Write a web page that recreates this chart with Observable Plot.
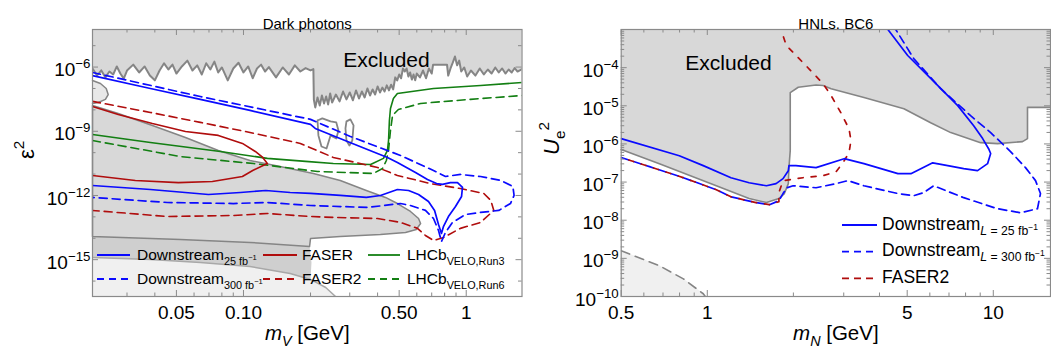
<!DOCTYPE html>
<html><head><meta charset="utf-8">
<script src="https://cdn.jsdelivr.net/npm/d3@7"></script>
<script src="https://cdn.jsdelivr.net/npm/@observablehq/plot@0.6"></script>
<style>
body{margin:0;background:#fff;}
#wrap{display:flex;width:1051px;height:352px;position:relative;}
#wrap svg{display:block;}
</style></head><body><div id="wrap"></div>
<script>
// ---------------- DATA : left panel (dark photons) ----------------
const titleL = "Dark photons", titleR = "HNLs. BC6";
const xDomainL = [0.021, 1.78], yDomainL = [1.9e-17, 5.7e-5];
const xTicksL = [0.05, 0.1, 0.5, 1], xTickLabelsL = ["0.05", "0.10", "0.50", "1"];
const xMinorL = [0.03, 0.04, 0.06, 0.07, 0.08, 0.09, 0.2, 0.3, 0.4, 0.6, 0.7, 0.8, 0.9];
const yTicksL = [1e-6, 1e-9, 1e-12, 1e-15], yTickLabelsL = ["10^{−6}", "10^{−9}", "10^{−12}", "10^{−15}"];
const yMinorL = [1e-5, 1e-7, 1e-8, 1e-10, 1e-11, 1e-13, 1e-14, 1e-16];

const dpTopBoundary = [
[0.021,8.6e-7],[0.022,4.0e-7],[0.023,7.0e-7],[0.024,3.3e-7],[0.025,6.2e-7],[0.026,4.5e-7],[0.027,1.07e-6],[0.028,5.0e-7],[0.029,2.9e-7],[0.030,6.9e-7],
[0.032,1.3e-6],[0.034,5.6e-7],[0.036,1.07e-6],[0.038,4.0e-7],[0.040,2.4e-7],[0.042,6.9e-7],[0.044,1.5e-6],[0.046,7.7e-7],[0.048,1.3e-6],[0.050,5.0e-7],
[0.053,1.1e-6],[0.056,2.0e-6],[0.059,6.9e-7],[0.062,1.2e-6],[0.065,4.5e-7],[0.068,1.5e-6],[0.071,7.7e-7],[0.074,1.8e-6],[0.077,5.6e-7],[0.080,9.6e-7],
[0.085,2.4e-7],[0.090,8.6e-7],[0.095,1.6e-6],[0.100,5.6e-7],[0.105,1.07e-6],[0.110,3.0e-7],[0.115,8.6e-7],[0.120,1.3e-6],[0.125,6.2e-7],[0.130,1.0e-6],
[0.14,3.3e-7],[0.15,9.6e-7],[0.16,4.5e-7],[0.17,1.2e-6],[0.18,6.2e-7],[0.19,9.0e-7],[0.20,7.0e-7],[0.206,8.0e-7],
[0.207,3.0e-8],[0.21,1.3e-8],[0.215,3.8e-8],[0.22,1.6e-8],[0.225,4.7e-8],[0.23,2.0e-8],[0.235,4.2e-8],[0.24,1.8e-8],[0.245,5.8e-8],[0.25,2.2e-8],
[0.26,5.2e-8],[0.27,2.5e-8],[0.28,7.2e-8],[0.29,3.1e-8],[0.30,6.5e-8],[0.31,2.8e-8],[0.32,8.1e-8],[0.33,3.4e-8],[0.34,7.2e-8],[0.35,3.8e-8],
[0.36,1.0e-7],[0.37,4.7e-8],[0.38,9.0e-8],[0.39,5.2e-8],[0.40,1.24e-7],[0.41,6.5e-8],[0.42,1.1e-7],[0.43,7.2e-8],[0.44,1.4e-7],[0.45,8.1e-8],
[0.46,1.5e-7],[0.47,9.0e-8],[0.475,1.7e-7],
[0.48,3.3e-7],[0.49,2.4e-7],[0.50,4.5e-7],[0.51,3.0e-7],[0.52,8.6e-7],[0.53,6.2e-7],[0.54,8.6e-7],[0.55,3.6e-7],[0.56,5.6e-7],[0.57,2.6e-7],
[0.58,4.5e-7],[0.59,2.4e-7],[0.60,5.0e-7],[0.62,3.3e-7],[0.64,6.9e-7],[0.66,3.0e-7],[0.68,8.6e-7],[0.70,5.0e-7],[0.71,1.3e-6],[0.76,1.3e-6],
[0.82,1.3e-6],[0.83,4.0e-7],[0.85,8.6e-7],[0.87,1.6e-6],[0.89,3.1e-6],[0.91,1.2e-6],[0.93,2.0e-6],[0.95,6.2e-7],[0.98,9.6e-7],[1.01,3.6e-7],
[1.05,6.9e-7],[1.10,4.0e-7],[1.15,8.6e-7],[1.20,4.5e-7],[1.25,7.7e-7],[1.30,5.0e-7],[1.35,9.6e-7],[1.40,5.6e-7],[1.45,8.6e-7],[1.50,5.0e-7],
[1.55,7.7e-7],[1.60,5.6e-7],[1.65,9.0e-7],[1.70,6.2e-7],[1.78,8.0e-7]];
const dpIsland1 = [[0.215,3.2e-9],[0.226,4.0e-9],[0.246,2.9e-9],[0.261,2.6e-9],[0.267,1.09e-9],[0.261,4.6e-10],[0.246,6.4e-10],[0.236,1.57e-10],[0.224,1.95e-10],[0.217,6.4e-10],[0.215,3.2e-9]];
const dpIsland2 = [[0.290,2.9e-9],[0.302,3.6e-9],[0.312,1.87e-9],[0.308,3.7e-10],[0.299,2.17e-10],[0.290,3.7e-10],[0.287,1.35e-9],[0.290,2.9e-9]];
const dpLobe = [[0.0210,2.37e-7],[0.0228,1.71e-7],[0.0242,1.0e-7],[0.0247,5.2e-8],[0.0240,3.1e-8],[0.0223,2.2e-8],[0.0210,2.0e-8]];
const dpRegionA = [[0.0210,1.6e-8],[0.0274,6.8e-9],[0.0390,1.87e-9],[0.0549,5.1e-10],[0.0771,1.27e-10],[0.107,4.3e-11],[0.146,2.26e-11],[0.206,1.07e-11],[0.272,5.0e-12],[0.356,1.71e-12],[0.434,8.1e-13],[0.491,4.2e-13],[0.562,1.79e-13],[0.611,8.4e-14],[0.624,4.9e-14],[0.597,2.58e-14],[0.534,1.87e-14],[0.412,1.5e-14],[0.272,1.21e-14],[0.200,9.8e-15],[0.198,4.1e-15],[0.107,6.4e-15],[0.0521,8.8e-15],[0.0210,1.21e-14]];
const dpRegionC = [[0.0210,1.21e-14],[0.0521,8.8e-15],[0.107,6.4e-15],[0.198,4.1e-15],[0.202,7.4e-16],[0.200,1.19e-16],[0.162,2.26e-16],[0.107,4.8e-16],[0.0640,7.4e-16],[0.0382,1.02e-15],[0.0210,1.27e-15]];
const dpLightBoundary = [[0.0210,1.27e-15],[0.0382,1.02e-15],[0.0640,7.4e-16],[0.107,4.8e-16],[0.162,2.26e-16],[0.200,1.19e-16],[0.234,5.0e-17],[0.259,1.9e-17]];

const dpDS25 = [[0.0210,4.0e-7],[0.0382,1.0e-7],[0.0640,3.1e-8],[0.107,9.4e-9],[0.200,2.1e-9],[0.210,1.35e-9],[0.293,3.3e-10],[0.443,6.0e-11],[0.491,3.5e-11],[0.592,1.19e-11],[0.670,5.6e-12],[0.736,3.6e-12],[0.783,3.3e-12],[0.849,4.0e-12],[0.914,4.0e-12],[0.962,2.37e-12],[0.953,9.0e-13],[0.895,3.06e-13],[0.832,1.04e-13],[0.791,3.6e-14],[0.774,1.67e-14],[0.751,4.4e-14],[0.721,2.0e-13],[0.677,5.2e-13],[0.611,1.11e-12],[0.551,1.71e-12],[0.491,1.9e-12],[0.412,1.0e-12],[0.356,8.1e-13],[0.272,1.0e-12],[0.200,1.24e-12],[0.162,1.38e-12],[0.126,1.71e-12],[0.0969,1.38e-12],[0.0696,1.11e-12],[0.0382,1.9e-12],[0.0210,2.93e-12]];
const dpDS300 = [[0.0210,5.6e-7],[0.0640,4.2e-8],[0.200,3.6e-9],[0.302,5.7e-10],[0.507,7.4e-11],[0.713,1.47e-11],[0.807,7.7e-12],[0.942,9.6e-12],[1.16,7.7e-12],[1.43,5.0e-12],[1.62,2.64e-12],[1.64,1.0e-12],[1.58,4.2e-13],[1.40,2.0e-13],[1.16,1.61e-13],[0.993,1.29e-13],[0.867,5.5e-14],[0.807,1.87e-14],[0.774,7.1e-15],[0.751,2.3e-14],[0.713,8.4e-14],[0.656,2.0e-13],[0.562,3.4e-13],[0.507,4.2e-13],[0.360,2.75e-13],[0.200,3.4e-13],[0.128,4.7e-13],[0.0901,4.2e-13],[0.0455,4.7e-13],[0.0210,8.1e-13]];
const dpFASER = [[0.0210,1.44e-8],[0.0274,6.1e-9],[0.0390,2.3e-9],[0.0549,9.8e-10],[0.0771,6.4e-10],[0.0989,2.7e-10],[0.113,1.14e-10],[0.122,6.0e-11],[0.128,3.1e-11],[0.110,1.47e-11],[0.0989,7.7e-12],[0.0725,4.5e-12],[0.0510,4.0e-12],[0.0327,5.0e-12],[0.0210,8.6e-12]];
const dpFASER2 = [[0.0210,2.5e-8],[0.0382,7.6e-9],[0.0640,2.6e-9],[0.107,8.8e-10],[0.180,2.7e-10],[0.253,6.0e-11],[0.400,2.03e-11],[0.491,8.6e-12],[0.691,3.6e-12],[0.942,2.1e-12],[1.20,1.24e-12],[1.29,5.8e-13],[1.33,2.0e-13],[1.16,5.5e-14],[0.942,2.9e-14],[0.791,1.09e-14],[0.713,7.9e-15],[0.656,1.35e-14],[0.604,2.9e-14],[0.507,5.5e-14],[0.400,8.4e-14],[0.253,9.4e-14],[0.200,1.04e-13],[0.128,1.44e-13],[0.0901,1.16e-13],[0.0455,1.04e-13],[0.0210,2.0e-13]];
const dpLHCbRun3 = [[0.0210,7.1e-10],[0.0382,3.0e-10],[0.0787,1.14e-10],[0.128,5.4e-11],[0.190,3.9e-11],[0.253,3.1e-11],[0.372,2.8e-11],[0.425,5.4e-11],[0.443,1.27e-10],[0.448,3.7e-10],[0.452,3.2e-9],[0.457,1.16e-8],[0.471,3.4e-8],[0.491,5.8e-8],[0.713,1.0e-7],[1.16,1.38e-7],[1.78,1.9e-7]];
const dpLHCbRun6 = [[0.0210,3.7e-10],[0.0521,6.6e-11],[0.111,3.1e-11],[0.215,1.32e-11],[0.383,1.07e-11],[0.421,1.83e-11],[0.438,4.3e-11],[0.448,1.27e-10],[0.457,1.09e-9],[0.467,5.5e-9],[0.496,1.04e-8],[0.624,2.0e-8],[1.045,3.1e-8],[1.78,4.7e-8]];

// ---------------- DATA : right panel (HNLs) ----------------
const xDomainR = [0.5, 15.85], yDomainR = [1e-10, 1e-3];
const xTicksR = [0.5, 1, 5, 10], xTickLabelsR = ["0.5", "1", "5", "10"];
const xMinorR = [0.6, 0.7, 0.8, 0.9, 2, 3, 4, 6, 7, 8, 9];
const yTicksR = [1e-4, 1e-5, 1e-6, 1e-7, 1e-8, 1e-9, 1e-10];
const yTickLabelsR = ["10^{−4}", "10^{−5}", "10^{−6}", "10^{−7}", "10^{−8}", "10^{−9}", "10^{−10}"];
const yMinorR = [1e-10,1e-9,1e-8,1e-7,1e-6,1e-5,1e-4].flatMap(d => [2,3,4,5,6,7,8,9].map(k => k * d)).filter(v => v < 1e-3);

const hnlExcluded = [[0.5,1e-3],[15.85,1e-3],[15.85,9.1e-6],[13.17,9.1e-6],[13.17,1.38e-6],[12.65,1.15e-6],[10.35,1.02e-6],[9.03,1.08e-6],[7.10,1.98e-6],[6.04,3.6e-6],[4.87,8.4e-6],[3.53,1.64e-5],[2.71,2.8e-5],[2.54,3.4e-5],[2.40,3.5e-5],[2.08,3.06e-5],[1.95,2.22e-5],[1.95,6.7e-7],[1.93,2.39e-7],[1.92,9.1e-8],[1.86,5.0e-8],[1.78,3.7e-8],[1.61,2.9e-8],[1.40,3.7e-8],[1.075,8.0e-8],[0.680,3.04e-7],[0.5,7.1e-7]];
const hnlBBN = [[0.5,1.58e-9],[0.680,6.4e-10],[0.825,2.9e-10],[0.968,1.18e-10],[0.984,1e-10]];
const hnlDS25 = [[0.5,1.38e-6],[0.798,4.9e-7],[0.968,2.7e-7],[1.21,1.30e-7],[1.40,9.6e-8],[1.61,8.0e-8],[1.74,9.1e-8],[1.84,1.23e-7],[1.92,1.99e-7],[1.93,2.7e-7],[2.04,2.7e-7],[2.40,2.39e-7],[3.01,4.1e-7],[3.53,3.04e-7],[4.64,1.66e-7],[5.15,1.66e-7],[5.58,2.25e-7],[6.14,3.2e-7],[6.93,2.7e-7],[7.88,2.25e-7],[8.81,1.99e-7],[9.55,3.04e-7],[9.79,5.6e-7],[9.63,7.5e-7],[9.18,1.38e-6],[8.54,3.0e-6],[7.51,1.01e-5],[6.04,5.2e-5],[5.02,2.08e-4],[4.28,1e-3]];
const hnlDS300 = [[0.5,4.4e-7],[0.628,2.54e-7],[0.825,1.30e-7],[1.075,6.3e-8],[1.21,4.1e-8],[1.48,2.9e-8],[1.65,2.55e-8],[1.78,3.25e-8],[1.84,5.0e-8],[1.90,7.1e-8],[1.995,8.0e-8],[2.40,7.1e-8],[2.82,9.1e-8],[3.10,1.09e-7],[3.53,8.0e-8],[4.64,5.0e-8],[5.27,4.4e-8],[5.71,5.3e-8],[6.19,8.0e-8],[7.88,3.9e-8],[10.35,2.0e-8],[12.45,1.57e-8],[14.27,2.0e-8],[14.62,5.0e-8],[14.05,1.09e-7],[12.96,2.39e-7],[11.49,6.3e-7],[9.79,1.98e-6],[8.33,5.5e-6],[6.55,2.8e-5],[5.27,1.73e-4],[4.56,1e-3]];
const hnlFASER2 = [[0.5,4.4e-7],[0.628,2.54e-7],[0.825,1.30e-7],[1.075,6.3e-8],[1.21,4.1e-8],[1.48,2.9e-8],[1.65,2.55e-8],[1.78,3.06e-8],[1.78,5.3e-8],[1.84,1.09e-7],[2.16,1.30e-7],[2.54,1.47e-7],[2.82,1.87e-7],[2.98,3.2e-7],[3.13,5.9e-7],[3.18,1.22e-6],[3.13,2.5e-6],[2.93,6.6e-6],[2.71,1.85e-5],[2.54,3.8e-5],[2.16,1.36e-4],[1.89,3.8e-4],[1.81,1e-3]];

const legendLabelsL = ["Downstream_{25 fb^{−1}}", "Downstream_{300 fb^{−1}}", "FASER", "FASER2", "LHCb_{VELO,Run3}", "LHCb_{VELO,Run6}"];
const legendLabelsR = ["Downstream_{~{L} = 25 fb^{−1}}", "Downstream_{~{L} = 300 fb^{−1}}", "FASER2"];

// ---------------- styles ----------------
const FONT = "'Liberation Sans', Arial, Helvetica, sans-serif";
const BLUE = "#0a0aff", RED = "#b00d0d", GREEN = "#137f13", GRAY = "#858585";
const FILL = "#d8d8d8", LIGHT = "#f0f0f0";
const H = 352, MT = 29, MB = 56, PH = H - MT - MB;
const X = d => d[0], Y = d => d[1];

function tickMarks(xMaj, xMin, yMaj, yMin, pw) {
  const s = {stroke: "#8a8a8a", strokeWidth: 1};
  return [
    Plot.tickX(xMaj, {x: d => d, insetTop: PH - 6, ...s}),
    Plot.tickX(xMaj, {x: d => d, insetBottom: PH - 6, ...s}),
    Plot.tickX(xMin, {x: d => d, insetTop: PH - 3.5, ...s}),
    Plot.tickX(xMin, {x: d => d, insetBottom: PH - 3.5, ...s}),
    Plot.tickY(yMaj, {y: d => d, insetRight: pw - 6, ...s}),
    Plot.tickY(yMaj, {y: d => d, insetLeft: pw - 6, ...s}),
    Plot.tickY(yMin, {y: d => d, insetRight: pw - 3.5, ...s}),
    Plot.tickY(yMin, {y: d => d, insetLeft: pw - 3.5, ...s})
  ];
}
const styleBase = {fontFamily: FONT, fontSize: "19px", background: "white", color: "black", overflow: "visible"};

// ---------------- left plot ----------------
const WL = 527, MLL = 92, MRL = 5.5, PWL = WL - MLL - MRL;
const left = Plot.plot({
  width: WL, height: H, marginLeft: MLL, marginRight: MRL, marginTop: MT, marginBottom: MB,
  style: styleBase,
  x: {type: "log", domain: xDomainL},
  y: {type: "log", domain: yDomainL},
  marks: [
    Plot.areaY(dpTopBoundary, {x: X, y1: () => yDomainL[1], y2: Y, fill: FILL}),
    Plot.areaY(dpLightBoundary, {x: X, y1: () => yDomainL[0], y2: Y, fill: LIGHT}),
    Plot.line(dpRegionC, {x: X, y: Y, fill: "#cfcfcf", stroke: "none", curve: "linear-closed"}),
    Plot.line(dpRegionA, {x: X, y: Y, fill: FILL, stroke: GRAY, strokeWidth: 1.5, curve: "linear-closed"}),
    Plot.line(dpLightBoundary, {x: X, y: Y, stroke: "#a8a8a8", strokeWidth: 1.5, clip: true}),
    Plot.line(dpLobe, {x: X, y: Y, fill: "#e8e8e8", stroke: GRAY, strokeWidth: 1.5}),
    Plot.line(dpTopBoundary, {x: X, y: Y, stroke: GRAY, strokeWidth: 2, clip: true}),
    Plot.line(dpIsland1, {x: X, y: Y, stroke: GRAY, strokeWidth: 1.8}),
    Plot.line(dpIsland2, {x: X, y: Y, stroke: GRAY, strokeWidth: 1.8}),
    Plot.line(dpLHCbRun6, {x: X, y: Y, stroke: GREEN, strokeWidth: 1.6, strokeDasharray: "8,5", clip: true}),
    Plot.line(dpLHCbRun3, {x: X, y: Y, stroke: GREEN, strokeWidth: 1.6, clip: true}),
    Plot.line(dpFASER2, {x: X, y: Y, stroke: RED, strokeWidth: 1.6, strokeDasharray: "8,5", clip: true}),
    Plot.line(dpFASER, {x: X, y: Y, stroke: RED, strokeWidth: 1.6, clip: true}),
    Plot.line(dpDS300, {x: X, y: Y, stroke: BLUE, strokeWidth: 1.7, strokeDasharray: "8,5", clip: true}),
    Plot.line(dpDS25, {x: X, y: Y, stroke: BLUE, strokeWidth: 1.7, clip: true}),
    Plot.frame({stroke: "#8a8a8a", strokeWidth: 1.2}),
    ...tickMarks(xTicksL, xMinorL, yTicksL, yMinorL, PWL),
    Plot.axisX({ticks: xTicksL, tickFormat: d => xTickLabelsL[xTicksL.indexOf(d)], tickSize: 0, tickPadding: 9, fontSize: 19, label: null}),
    Plot.axisY({ticks: yTicksL, tickFormat: d => yTickLabelsL[yTicksL.indexOf(d)], tickSize: 0, tickPadding: 2, dy: 3, fontSize: 19, label: null}),
    Plot.text(["~{m}_{~{V}} [GeV]"], {text: d => d, frameAnchor: "bottom", dy: 43.5, fontSize: 20.5}),
    Plot.text(["ε^{2}"], {text: d => d, frameAnchor: "left", rotate: -90, dx: -66, dy: -4, fontSize: 22}),
    Plot.text([titleL], {text: d => d, frameAnchor: "top", dy: -10.8, fontSize: 15}),
    Plot.text(["Excluded"], {text: d => d, frameAnchor: "top-left", dx: 294, dy: 22.3, fontSize: 21, textAnchor: "middle"})
  ]
});

// ---------------- right plot ----------------
const WR = 524, MLR = 93.7, MRR = 1, PWR = WR - MLR - MRR;
const right = Plot.plot({
  width: WR, height: H, marginLeft: MLR, marginRight: MRR, marginTop: MT, marginBottom: MB,
  style: styleBase,
  x: {type: "log", domain: xDomainR},
  y: {type: "log", domain: yDomainR},
  marks: [
    Plot.line(hnlExcluded, {x: X, y: Y, fill: FILL, stroke: "none", curve: "linear-closed"}),
    Plot.line(hnlExcluded.slice(2), {x: X, y: Y, stroke: GRAY, strokeWidth: 1.6}),
    Plot.areaY(hnlBBN, {x: X, y1: () => yDomainR[0], y2: Y, fill: LIGHT}),
    Plot.line(hnlBBN, {x: X, y: Y, stroke: GRAY, strokeWidth: 1.6, strokeDasharray: "9,6", clip: true}),
    Plot.line(hnlDS300, {x: X, y: Y, stroke: BLUE, strokeWidth: 1.7, strokeDasharray: "8,5", clip: true}),
    Plot.line(hnlFASER2, {x: X, y: Y, stroke: RED, strokeWidth: 1.7, strokeDasharray: "5,8", strokeDashoffset: -8, clip: true}),
    Plot.line(hnlDS25, {x: X, y: Y, stroke: BLUE, strokeWidth: 1.7, clip: true}),
    Plot.frame({stroke: "#8a8a8a", strokeWidth: 1.2}),
    ...tickMarks(xTicksR, xMinorR, yTicksR, yMinorR, PWR),
    Plot.axisX({ticks: xTicksR, tickFormat: d => xTickLabelsR[xTicksR.indexOf(d)], tickSize: 0, tickPadding: 9, fontSize: 19, label: null}),
    Plot.axisY({ticks: yTicksR, tickFormat: d => yTickLabelsR[yTicksR.indexOf(d)], tickSize: 0, tickPadding: 2.5, dy: 3, fontSize: 19, label: null}),
    Plot.text(["~{m}_{~{N}} [GeV]"], {text: d => d, frameAnchor: "bottom", dy: 43.5, fontSize: 20.5}),
    Plot.text(["~{U}_{e}^{2}"], {text: d => d, frameAnchor: "left", rotate: -90, dx: -69.7, dy: -8, fontSize: 22}),
    Plot.text([titleR], {text: d => d, frameAnchor: "top", dy: -10.8, fontSize: 15}),
    Plot.text(["Excluded"], {text: d => d, frameAnchor: "top-left", dx: 107.3, dy: 26, fontSize: 21, textAnchor: "middle"})
  ]
});

// ---------------- legends (inside plots) ----------------
function addLegend(svg, items) {
  const g = d3.select(svg).append("g").attr("font-family", FONT).attr("text-anchor", "start");
  for (const it of items) {
    g.append("line").attr("x1", it.x1).attr("x2", it.x2).attr("y1", it.y).attr("y2", it.y)
      .attr("stroke", it.color).attr("stroke-width", 1.8).attr("stroke-dasharray", it.dash || null);
    g.append("text").attr("x", it.tx).attr("y", it.ty).attr("font-size", it.size)
      .attr("text-anchor", "start").attr("fill", "black").text(it.label);
  }
}
addLegend(left, [
  {x1: 97, x2: 130, y: 255, color: BLUE, tx: 137, ty: 260, size: 15.5, label: legendLabelsL[0]},
  {x1: 97, x2: 130, y: 279, color: BLUE, dash: "7,5", tx: 137, ty: 284, size: 15.5, label: legendLabelsL[1]},
  {x1: 263, x2: 297, y: 255, color: RED, tx: 302, ty: 260, size: 15.5, label: legendLabelsL[2]},
  {x1: 263, x2: 297, y: 279, color: RED, dash: "7,5", tx: 302, ty: 284, size: 15.5, label: legendLabelsL[3]},
  {x1: 368, x2: 400, y: 255, color: GREEN, tx: 407, ty: 260, size: 15.5, label: legendLabelsL[4]},
  {x1: 368, x2: 400, y: 279, color: GREEN, dash: "7,5", tx: 407, ty: 284, size: 15.5, label: legendLabelsL[5]}
]);
addLegend(right, [
  {x1: 315, x2: 350, y: 225, color: BLUE, tx: 355, ty: 229.5, size: 17.5, label: legendLabelsR[0]},
  {x1: 315, x2: 350, y: 251.7, color: BLUE, dash: "7,5", tx: 355, ty: 256, size: 17.5, label: legendLabelsR[1]},
  {x1: 315, x2: 350, y: 278.3, color: RED, dash: "7,5", tx: 355, ty: 282.5, size: 17.5, label: legendLabelsR[2]}
]);

// ---------------- rich text (sub/superscripts, italics) ----------------
function parseRich(s) {
  const out = [];
  (function rec(str, stack) {
    let buf = "";
    for (let i = 0; i < str.length;) {
      const c = str[i];
      if ((c === "^" || c === "_" || c === "~") && str[i + 1] === "{") {
        if (buf) { out.push({t: buf, s: stack}); buf = ""; }
        let depth = 0, j = i + 1;
        for (; j < str.length; j++) {
          if (str[j] === "{") depth++;
          else if (str[j] === "}") { if (--depth === 0) break; }
        }
        rec(str.slice(i + 2, j), stack.concat(c));
        i = j + 1;
      } else { buf += c; i++; }
    }
    if (buf) out.push({t: buf, s: stack});
  })(s, []);
  return out;
}
function richify(root) {
  root.querySelectorAll("text").forEach(el => {
    const s = el.textContent;
    if (!/[\^_~]\{/.test(s)) return;
    const base = parseFloat(getComputedStyle(el).fontSize) || 16;
    const segs = parseRich(s);
    el.textContent = "";
    let prev = 0;
    for (const seg of segs) {
      let size = base, shift = 0, italic = false;
      for (const k of seg.s) {
        if (k === "^") { shift -= size * 0.42; size *= 0.7; }
        else if (k === "_") { shift += size * 0.3; size *= 0.7; }
        else italic = true;
      }
      const ts = document.createElementNS("http://www.w3.org/2000/svg", "tspan");
      ts.setAttribute("font-size", size.toFixed(2));
      if (Math.abs(shift - prev) > 1e-6) ts.setAttribute("dy", (shift - prev).toFixed(2));
      if (italic) ts.setAttribute("font-style", "italic");
      ts.textContent = seg.t;
      el.appendChild(ts);
      prev = shift;
    }
  });
}

const wrap = document.getElementById("wrap");
wrap.append(left, right);
richify(left); richify(right);
</script></body></html>
